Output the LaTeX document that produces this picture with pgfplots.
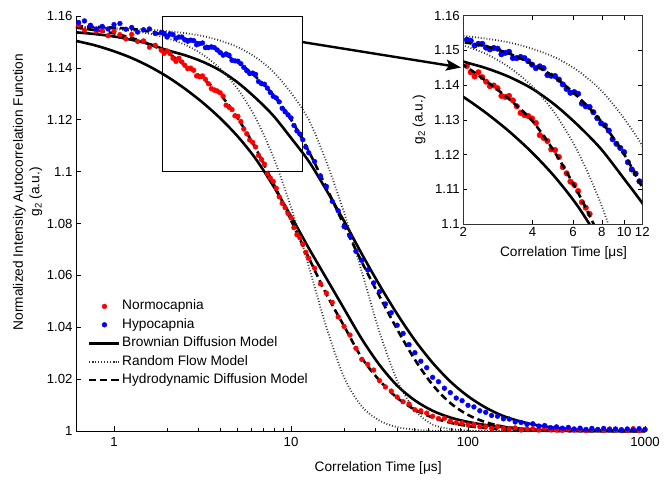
\documentclass[border=0pt]{standalone}
\usepackage{fontspec}
\setmainfont{Liberation Sans}
\usepackage{pgfplots}
\pgfplotsset{compat=1.18}
\usepackage{pgfplotstable}
\usetikzlibrary{arrows.meta}

\pgfplotstableread{
x Rh Bh Rb Bb Rr Br
0.61 1.1555 1.1560 1.1504 1.1537 1.1559 1.1556
0.79 1.1545 1.1558 1.1486 1.1530 1.1555 1.1556
1.00 1.1533 1.1555 1.1464 1.1521 1.1550 1.1553
1.26 1.1515 1.1550 1.1438 1.1508 1.1543 1.1550
1.58 1.1492 1.1540 1.1406 1.1492 1.1532 1.1547
2.00 1.1458 1.1524 1.1366 1.1468 1.1514 1.1542
2.51 1.1412 1.1512 1.1320 1.1449 1.1490 1.1534
3.16 1.1360 1.1491 1.1267 1.1424 1.1452 1.1523
3.98 1.1298 1.1461 1.1206 1.1390 1.1397 1.1505
5.01 1.1205 1.1422 1.1135 1.1343 1.1318 1.1480
6.31 1.1090 1.1366 1.1050 1.1284 1.1207 1.1441
7.94 1.0955 1.1296 1.0945 1.1216 1.1057 1.1385
10.0 1.0812 1.1201 1.0828 1.1130 1.0863 1.1304
12.6 1.0668 1.1078 1.0705 1.1040 1.0635 1.1200
15.8 1.0529 1.0941 1.0590 1.0930 1.0403 1.1040
20.0 1.0403 1.0791 1.0470 1.0808 1.0205 1.0840
25.1 1.0282 1.0652 1.0355 1.0683 1.0095 1.0615
31.6 1.0195 1.0520 1.0255 1.0563 1.0040 1.0382
39.8 1.0128 1.0392 1.0175 1.0451 1.0015 1.0195
50.1 1.0082 1.0275 1.0118 1.0350 1.0005 1.0080
63.1 1.0052 1.0178 1.0078 1.0263 1.0001 1.0025
79.4 1.0032 1.0108 1.0052 1.0191 1.0000 1.0008
100 1.0019 1.0062 1.0035 1.0134 1.0000 1.0002
126 1.0011 1.0034 1.0023 1.0090 1.0000 1.0000
158 1.0006 1.0017 1.0015 1.0058 1.0000 1.0000
200 1.0003 1.0008 1.0009 1.0036 1.0000 1.0000
251 1.0001 1.0003 1.0005 1.0021 1.0000 1.0000
316 1.0000 1.0001 1.0003 1.0012 1.0000 1.0000
398 1.0000 1.0000 1.0001 1.0006 1.0000 1.0000
501 1.0000 1.0000 1.0000 1.0003 1.0000 1.0000
631 1.0000 1.0000 1.0000 1.0001 1.0000 1.0000
794 1.0000 1.0000 1.0000 1.0000 1.0000 1.0000
1000 1.0000 1.0000 1.0000 1.0000 1.0000 1.0000
}\models

\pgfplotstableread{
x y
0.631 1.1565
0.681 1.1545
0.736 1.1564
0.794 1.1541
0.858 1.1544
0.926 1.1524
1.000 1.1541
1.080 1.1528
1.166 1.1512
1.259 1.1529
1.359 1.1502
1.468 1.1504
1.585 1.1480
1.711 1.1487
1.848 1.1468
1.920 1.1456
1.995 1.1465
2.073 1.1455
2.154 1.1437
2.239 1.1425
2.326 1.1437
2.418 1.1423
2.512 1.1410
2.610 1.1397
2.712 1.1399
2.818 1.1391
2.929 1.1369
3.043 1.1366
3.162 1.1369
3.286 1.1356
3.415 1.1339
3.548 1.1320
3.687 1.1314
3.831 1.1311
3.981 1.1304
4.137 1.1291
4.299 1.1256
4.467 1.1248
4.642 1.1239
4.823 1.1215
5.012 1.1213
5.208 1.1193
5.412 1.1164
5.623 1.1146
5.843 1.1122
6.072 1.1113
6.310 1.1095
6.556 1.1063
6.813 1.1047
7.079 1.1029
7.356 1.0991
7.644 1.0975
7.943 1.0962
8.254 1.0936
8.577 1.0903
8.913 1.0878
9.261 1.0861
9.624 1.0839
10.00 1.0822
10.39 1.0784
10.80 1.0757
11.22 1.0745
11.66 1.0720
12.12 1.0689
12.59 1.0666
13.59 1.0628
14.68 1.0567
15.85 1.0532
17.11 1.0496
18.48 1.0440
19.95 1.0403
21.54 1.0370
23.26 1.0319
25.12 1.0276
27.12 1.0257
29.29 1.0235
31.62 1.0194
34.15 1.0170
36.87 1.0154
39.81 1.0131
42.99 1.0113
46.42 1.0104
50.12 1.0082
54.12 1.0078
58.43 1.0069
63.10 1.0057
68.13 1.0048
73.56 1.0049
79.43 1.0038
85.77 1.0032
92.61 1.0031
100.0 1.0024
108.0 1.0025
116.6 1.0017
125.9 1.0017
135.9 1.0010
146.8 1.0017
158.5 1.0010
171.1 1.0008
184.8 1.0012
199.5 1.0004
215.4 1.0008
232.6 1.0009
251.2 1.0004
271.2 1.0010
292.9 1.0005
316.2 1.0004
341.5 1.0003
368.7 1.0008
398.1 1.0004
429.9 1.0006
464.2 1.0002
501.2 1.0007
541.2 1.0005
584.3 1.0003
631.0 1.0008
681.3 1.0004
735.6 1.0006
794.3 1.0003
857.7 1.0009
926.1 1.0002
1000 1.0007
}\reddots

\pgfplotstableread{
x y
0.631 1.1575
0.681 1.1581
0.736 1.1564
0.794 1.1550
0.858 1.1560
0.926 1.1550
1.000 1.1567
1.080 1.1571
1.166 1.1549
1.259 1.1556
1.359 1.1538
1.468 1.1547
1.585 1.1550
1.711 1.1533
1.848 1.1536
1.920 1.1533
1.995 1.1519
2.073 1.1531
2.154 1.1528
2.239 1.1514
2.326 1.1519
2.418 1.1519
2.512 1.1508
2.610 1.1503
2.712 1.1507
2.818 1.1505
2.929 1.1489
3.043 1.1493
3.162 1.1496
3.286 1.1478
3.415 1.1478
3.548 1.1481
3.687 1.1478
3.831 1.1469
3.981 1.1459
4.137 1.1449
4.299 1.1454
4.467 1.1449
4.642 1.1429
4.823 1.1427
5.012 1.1426
5.208 1.1416
5.412 1.1402
5.623 1.1389
5.843 1.1378
6.072 1.1380
6.310 1.1375
6.556 1.1347
6.813 1.1339
7.079 1.1337
7.356 1.1322
7.644 1.1305
7.943 1.1290
8.254 1.1284
8.577 1.1269
8.913 1.1244
9.261 1.1231
9.624 1.1219
10.00 1.1207
10.39 1.1178
10.80 1.1157
11.22 1.1145
11.66 1.1123
12.12 1.1095
12.59 1.1073
13.59 1.1039
14.68 1.0983
15.85 1.0943
17.11 1.0885
18.48 1.0849
19.95 1.0788
21.54 1.0751
23.26 1.0693
25.12 1.0658
27.12 1.0621
29.29 1.0571
31.62 1.0537
34.15 1.0490
36.87 1.0456
39.81 1.0408
42.99 1.0376
46.42 1.0333
50.12 1.0302
54.12 1.0269
58.43 1.0244
63.10 1.0207
68.13 1.0190
73.56 1.0165
79.43 1.0148
85.77 1.0127
92.61 1.0117
100.0 1.0099
108.0 1.0093
116.6 1.0078
125.9 1.0072
135.9 1.0060
146.8 1.0057
158.5 1.0047
171.1 1.0046
184.8 1.0035
199.5 1.0033
215.4 1.0026
232.6 1.0028
251.2 1.0019
271.2 1.0021
292.9 1.0013
316.2 1.0016
341.5 1.0011
368.7 1.0014
398.1 1.0008
429.9 1.0011
464.2 1.0006
501.2 1.0010
541.2 1.0006
584.3 1.0010
631.0 1.0005
681.3 1.0008
735.6 1.0003
794.3 1.0008
857.7 1.0004
926.1 1.0009
1000 1.0005
}\bluedots

\pgfplotsset{
  brown/.style={black, line width=2.6pt, smooth},
  rflow/.style={black!80, line width=1.8pt, dash pattern=on 0.9pt off 2pt, smooth},
  hydro/.style={black, line width=2.6pt, dash pattern=on 7pt off 4pt, smooth},
}

\begin{document}
\begin{tikzpicture}[font=\fontsize{13.7}{16.4}\selectfont]
\useasboundingbox (0,0) rectangle (668pt,491pt);
\begin{axis}[
  at={(76pt,60pt)}, anchor=south west,
  scale only axis, width=569pt, height=415pt,
  xmode=log, xmin=0.61, xmax=1000, ymin=1, ymax=1.16,
  axis x line*=bottom, axis y line*=left,
  clip=false,
  xtick={1,10,100,1000}, xticklabels={1,10,100,1000},
  ytick={1,1.02,1.04,1.06,1.08,1.1,1.12,1.14,1.16},
  yticklabels={1,1.02,1.04,1.06,1.08,1.1,1.12,1.14,1.16},
  tick label style={font=\fontsize{13.2}{15.8}\selectfont},
  xticklabel style={yshift=-2.5pt},
  tick align=inside, major tick length=5pt, minor tick length=3pt,
  tick style={black, line width=0.6pt},
  axis line style={line width=0.8pt, black},
  xlabel={Correlation Time [μs]},
  xlabel style={at={(axis description cs:0.531,-0.089)}, anchor=center},
  ylabel={Normalized Intensity Autocorrelation Function\\g\textsubscript{2} (a.u.)},
  ylabel style={align=center, at={(axis description cs:-0.085,0.576)}, anchor=center},
  legend cell align=left,
  legend style={draw=none, fill=none, at={(axis description cs:0.021,0.316)}, anchor=north west,
    inner sep=0pt, row sep=5.7pt, column sep=1.5pt,
    font=\fontsize{13.7}{16.4}\selectfont,
    nodes={inner sep=0pt, text height=9.8pt, text depth=2.9pt}},
  legend image code/.code={\draw[mark repeat=2,mark phase=2,#1] plot coordinates {(0pt,0pt) (15pt,0pt) (30pt,0pt)};},
]
\addplot[only marks, mark=*, mark size=2.4pt, red] table[x=x,y=y]{\reddots};
\addlegendentry{Normocapnia}
\addplot[only marks, mark=*, mark size=2.4pt, blue] table[x=x,y=y]{\bluedots};
\addlegendentry{Hypocapnia}
\addplot[brown] table[x=x,y=Rb]{\models};
\addlegendentry{Brownian Diffusion Model}
\addplot[brown, forget plot] table[x=x,y=Bb]{\models};
\addplot[rflow] table[x=x,y=Rr]{\models};
\addlegendentry{Random Flow Model}
\addplot[rflow, forget plot] table[x=x,y=Br]{\models};
\addplot[hydro] table[x=x,y=Rh]{\models};
\addlegendentry{Hydrodynamic Diffusion Model}
\addplot[hydro, forget plot] table[x=x,y=Bh]{\models};
\draw[line width=0.9pt, black] (axis cs:1.87,1.1) rectangle (axis cs:11.55,1.16);
\end{axis}

\begin{axis}[
  at={(463.3pt,267pt)}, anchor=south west,
  scale only axis, width=179pt, height=208.3pt,
  xmode=log, xmin=2, xmax=12, ymin=1.1, ymax=1.16,
  axis background/.style={fill=white},
  xtick={2,4,6,8,10,12}, xticklabels={2,4,6,8,10,12},
  ytick={1.1,1.11,1.12,1.13,1.14,1.15,1.16},
  yticklabels={1.1,1.11,1.12,1.13,1.14,1.15,1.16},
  tick label style={font=\fontsize{13.2}{15.8}\selectfont},
  tick align=inside, major tick length=4pt, minor tick length=0pt,
  tick style={black, line width=0.6pt},
  axis line style={line width=0.8pt, black!80},
  clip marker paths=true,
  xlabel={Correlation Time [μs]},
  xlabel style={at={(axis description cs:0.56,-0.139)}, anchor=center},
  ylabel={g\textsubscript{2} (a.u.)},
  ylabel style={at={(axis description cs:-0.247,0.5)}, anchor=center},
]
\addplot[only marks, mark=*, mark size=2.8pt, red] table[x=x,y=y]{\reddots};
\addplot[only marks, mark=*, mark size=2.8pt, blue] table[x=x,y=y]{\bluedots};
\addplot[brown] table[x=x,y=Rb]{\models};
\addplot[brown] table[x=x,y=Bb]{\models};
\addplot[rflow] table[x=x,y=Rr]{\models};
\addplot[rflow] table[x=x,y=Br]{\models};
\addplot[hydro] table[x=x,y=Rh]{\models};
\addplot[hydro] table[x=x,y=Bh]{\models};
\end{axis}

\draw[line width=2.4pt, -{Stealth[length=15pt,width=11pt,inset=3pt]}] (302pt,449pt) -- (461pt,423.5pt);
\end{tikzpicture}
\end{document}
